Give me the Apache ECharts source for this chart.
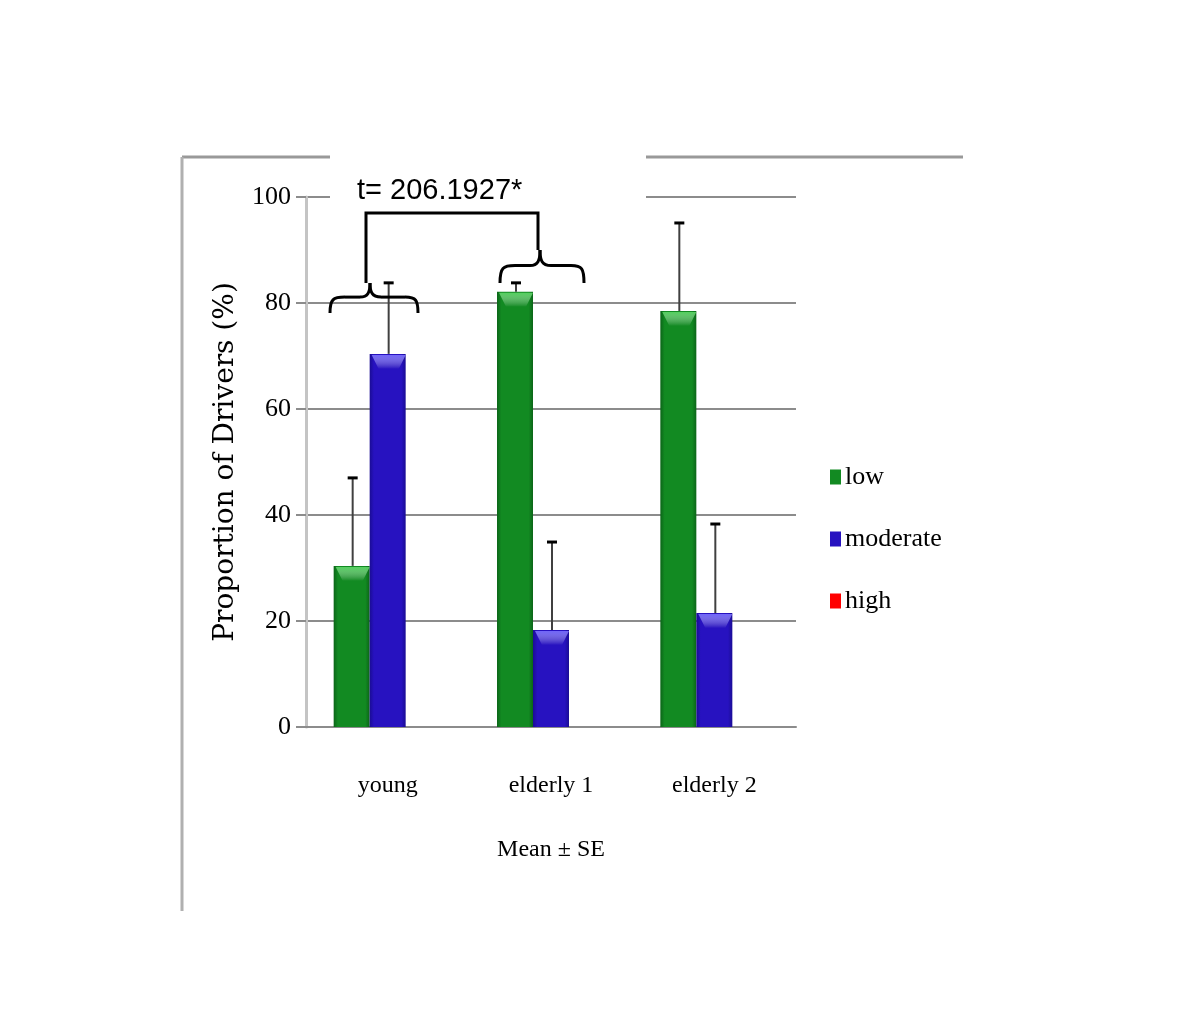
<!DOCTYPE html>
<html><head><meta charset="utf-8">
<script src="https://cdn.jsdelivr.net/npm/echarts@6/dist/echarts.min.js"></script>
<style>html,body{margin:0;padding:0;background:#fff}#c{width:1200px;height:1035px}</style>
</head><body><div id="c"></div>
<script>
const categories = ['young', 'elderly 1', 'elderly 2'];
const seriesNames = ['low', 'moderate', 'high'];
const lowValues = [30.4, 82.1, 78.5];
const lowErrors = [16.6, 1.7, 16.6];
const moderateValues = [70.4, 18.3, 21.5];
const moderateErrors = [13.4, 16.6, 16.8];
const highValues = [0, 0, 0];
const highErrors = [0, 0, 0];
const yTicks = [0, 20, 40, 60, 80, 100];
const annotationText = 't= 206.1927*';

const BAR_W = 36;
const serif = '"Liberation Serif", "Times New Roman", serif';

function grad(edge, mid) {
  return {type: 'linear', x: 0, y: 0, x2: 1, y2: 0, colorStops: [
    {offset: 0, color: edge}, {offset: 0.12, color: mid},
    {offset: 0.88, color: mid}, {offset: 1, color: edge}
  ]};
}
const colors = [grad('#0b6518', '#128a22'), grad('#1a0c95', '#2712c0'), grad('#b00000', '#ff0000')];
const legendColors = ['#128a22', '#2712c0', '#ff0000'];
const bevelColors = ['rgba(90,215,100,0.9)', 'rgba(120,110,255,0.9)', 'rgba(255,120,120,0.9)'];

const allValues = [lowValues, moderateValues, highValues];
const allErrors = [lowErrors, moderateErrors, highErrors];

const barSeries = allValues.map((vals, i) => ({
  name: seriesNames[i], type: 'bar', data: vals, barWidth: BAR_W, barGap: '0%',
  itemStyle: {color: colors[i]}, z: 2
}));

const errSeries = allValues.map((vals, i) => ({
  type: 'custom', name: seriesNames[i] + ' err', z: 3, silent: true,
  data: vals.map((v, k) => [k, v, allErrors[i][k]]),
  renderItem: function (params, api) {
    const idx = api.value(0), v = api.value(1), e = api.value(2);
    if (!v) return null;
    const off = (i - 1) * BAR_W + 1;
    const p0 = api.coord([idx, v]);
    const p1 = api.coord([idx, v + e]);
    const x = p0[0] + off;
    const xl = x - BAR_W / 2 + 1, xr = x + BAR_W / 2 - 1, yt = p0[1] + 1;
    const children = [
      {type: 'polygon', shape: {points: [[xl, yt], [xr, yt], [xr - 7, yt + 14], [xl + 7, yt + 14]]},
        style: {fill: {type: 'linear', x: 0, y: 0, x2: 0, y2: 1, colorStops: [
          {offset: 0, color: bevelColors[i]}, {offset: 1, color: 'rgba(255,255,255,0)'}]}}}
    ];
    if (e) {
      children.push(
        {type: 'line', shape: {x1: x, y1: p0[1], x2: x, y2: p1[1]}, style: {stroke: '#404040', lineWidth: 2}},
        {type: 'line', shape: {x1: x - 5, y1: p1[1], x2: x + 5, y2: p1[1]}, style: {stroke: '#000', lineWidth: 3}}
      );
    }
    return {type: 'group', children};
  }
}));

const stroke = {stroke: '#000', lineWidth: 3, fill: null};
function brace(xl, xt, xr, yt, ye) {
  const ym = yt + (ye - yt) * 0.47;
  const segs = [
    {type: 'bezierCurve', shape: {x1: xl, y1: ye, cpx1: xl, cpy1: ym + 2, cpx2: xl + 3, cpy2: ym, x2: xl + 15, y2: ym}},
    {type: 'line', shape: {x1: xl + 15, y1: ym, x2: xt - 10, y2: ym}},
    {type: 'bezierCurve', shape: {x1: xt - 10, y1: ym, cpx1: xt - 2, cpy1: ym, cpx2: xt, cpy2: ym - 5, x2: xt, y2: yt}},
    {type: 'bezierCurve', shape: {x1: xt, y1: yt, cpx1: xt, cpy1: ym - 5, cpx2: xt + 2, cpy2: ym, x2: xt + 11, y2: ym}},
    {type: 'line', shape: {x1: xt + 11, y1: ym, x2: xr - 13, y2: ym}},
    {type: 'bezierCurve', shape: {x1: xr - 13, y1: ym, cpx1: xr - 2, cpy1: ym, cpx2: xr, cpy2: ym + 3, x2: xr, y2: ye}}
  ];
  return segs.map(s => Object.assign(s, {z: 102, style: Object.assign({}, stroke)}));
}

const chart = echarts.init(document.getElementById('c'));
chart.setOption({
  animation: false,
  backgroundColor: '#fff',
  grid: {left: 306, right: 404, top: 197, bottom: 308, containLabel: false},
  legend: {
    data: seriesNames.map((n, i) => ({name: n, itemStyle: {color: legendColors[i]}})),
    orient: 'vertical', left: 825, top: 459, itemWidth: 11, itemHeight: 15, itemGap: 36,
    icon: 'rect',
    textStyle: {fontFamily: serif, fontSize: 26, color: '#000', padding: [0, 0, 0, -1]}
  },
  xAxis: {
    type: 'category', data: categories,
    axisLine: {lineStyle: {color: '#8c8c8c', width: 2}},
    axisTick: {show: false},
    axisLabel: {fontFamily: serif, fontSize: 24, color: '#000', margin: 47},
    name: 'Mean ± SE', nameLocation: 'middle', nameGap: 111,
    nameTextStyle: {fontFamily: serif, fontSize: 24, color: '#000'}
  },
  yAxis: {
    type: 'value', min: 0, max: 100, interval: 20,
    axisLine: {show: true, lineStyle: {color: '#c4c4c4', width: 3}},
    axisTick: {show: true, length: 10, lineStyle: {color: '#8c8c8c', width: 2}},
    splitLine: {lineStyle: {color: '#8c8c8c', width: 2}},
    axisLabel: {fontFamily: serif, fontSize: 26, color: '#000', margin: 15,
      formatter: v => yTicks.indexOf(v) >= 0 ? String(v) : ''},
    name: 'Proportion of Drivers (%)', nameLocation: 'middle', nameGap: 66, nameRotate: 90,
    nameTextStyle: {fontFamily: '"DejaVu Serif", serif', fontSize: 28, color: '#000'}
  },
  series: [...barSeries, ...errSeries],
  graphic: [
    {type: 'line', z: 100, shape: {x1: 182, y1: 157, x2: 963, y2: 157}, style: {stroke: '#999', lineWidth: 3}},
    {type: 'line', z: 100, shape: {x1: 182, y1: 157, x2: 182, y2: 911}, style: {stroke: '#b0b0b0', lineWidth: 3}},
    {type: 'rect', z: 101, shape: {x: 330, y: 140, width: 316, height: 62}, style: {fill: '#fff'}},
    {type: 'text', z: 102, x: 357, y: 191, style: {text: annotationText, fontFamily: '"Liberation Sans", Arial, sans-serif', fontSize: 29, fill: '#000', verticalAlign: 'middle'}},
    {type: 'polyline', z: 102, shape: {points: [[366, 283], [366, 213], [538, 213], [538, 250]]}, style: Object.assign({}, stroke)},
    ...brace(330, 370, 418, 283, 313),
    ...brace(500, 540, 584, 250, 283)
  ]
});
</script></body></html>
